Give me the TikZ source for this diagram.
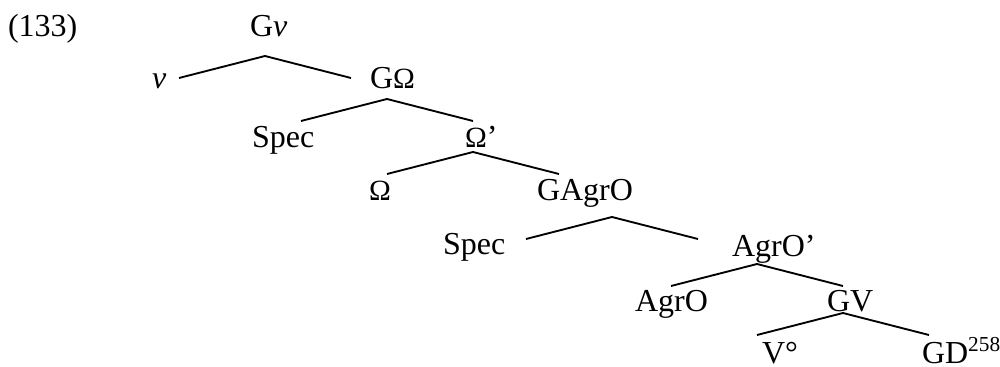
\documentclass[tikz,border=0pt]{standalone}
\usepackage{fontspec}
\setmainfont{Liberation Serif}
\newcommand{\Om}{{\fontsize{11}{12}\selectfont Ω}}

\begin{document}
\begin{tikzpicture}[
    x = 0.375pt, y = -0.375pt,
    font = \fontsize{12}{14}\selectfont,
    word/.style = {anchor=base west, inner sep=0pt, outer sep=0pt},
    branch/.style = {line width=0.7pt}
  ]
  \useasboundingbox (0,0) rectangle (1000,367);

  % branches, one pair under each mother node
  \foreach \ax/\ay [count=\i] in {265/56, 387/99, 473/152, 612/217, 757/264, 843/313}
  {
    \coordinate (TOP\i) at (\ax,\ay);
    \coordinate (LEFT\i) at (\ax-86,\ay+22);
    \coordinate (RIGHT\i) at (\ax+86,\ay+22);
    \draw[branch] (LEFT\i) -- (TOP\i) -- (RIGHT\i);
  }

  \node[word] (NUM) at (8,37) {(133)};
  \node[word] (GVSMALL) at (250,37) {G\textit{v}};
  \node[word] (VSMALL) at (152,89) {\textit{v}};
  \node[word] (GOM) at (370,89) {G\Om};
  \node[word] (SPECA) at (252,148) {Spec};
  \node[word] (OMBAR) at (465,148) {\Om’};
  \node[word] (OM) at (369,201) {\Om};
  \node[word] (GAGRO) at (537,201) {GAgrO};
  \node[word] (SPECB) at (443,255) {Spec};
  \node[word] (AGROBAR) at (732,257) {AgrO’};
  \node[word] (AGRO) at (635,311) {AgrO};
  \node[word] (GV) at (827,311) {GV};
  \node[word] (VDEG) at (762,363) {V°};
  \node[word] (GD) at (922,363) {GD\textsuperscript{258}};
\end{tikzpicture}
\end{document}
